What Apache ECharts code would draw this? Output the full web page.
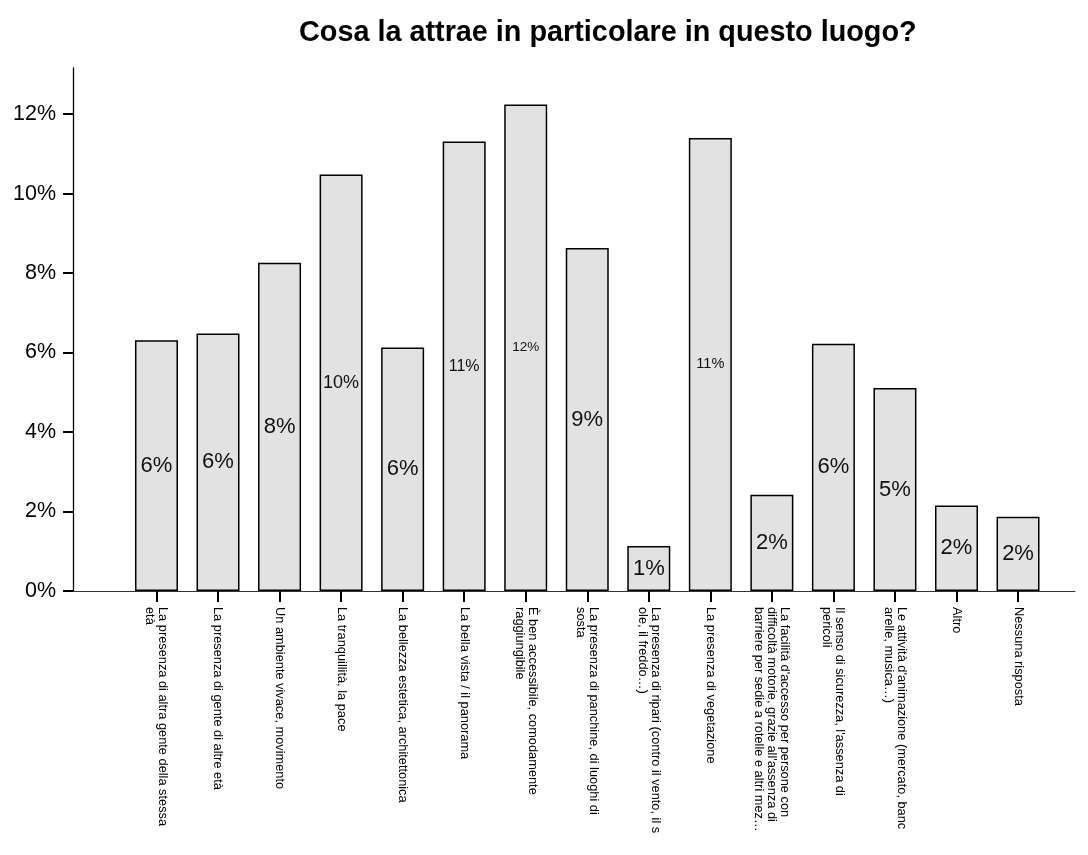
<!DOCTYPE html>
<html>
<head>
<meta charset="utf-8">
<script src="https://cdn.jsdelivr.net/npm/echarts@6/dist/echarts.min.js"></script>
<style>
html,body{margin:0;padding:0;background:#fff;}
#chart{width:1088px;height:855px;}
</style>
</head>
<body>
<div id="chart"></div>
<script>
const titleText = 'Cosa la attrae in particolare in questo luogo?';
const categories = [
  'La presenza di altra gente della stessa\netà',
  'La presenza di gente di altre età',
  'Un ambiente vivace, movimento',
  'La tranquillità, la pace',
  'La bellezza estetica, architettonica',
  'La bella vista / il panorama',
  'È ben accessibile, comodamente\nraggiungibile',
  'La presenza di panchine, di luoghi di\nsosta',
  'La presenza di ripari (contro il vento, il s\nole, il freddo…)',
  'La presenza di vegetazione',
  "La facilità d'accesso per persone con\ndifficoltà motorie, grazie all'assenza di\nbarriere per sedie a rotelle e altri mez…",
  "Il senso di sicurezza, l'assenza di\npericoli",
  "Le attività d'animazione (mercato, banc\narelle, musica…)",
  'Altro',
  'Nessuna risposta'
];
const percentValues = [6.31, 6.48, 8.26, 10.48, 6.13, 11.31, 12.24, 8.63, 1.13, 11.40, 2.42, 6.22, 5.11, 2.15, 1.87];
const yTickValues = [0, 2, 4, 6, 8, 10, 12];
const yMax = 13.16;

// label font sizes (style only)
const labelSizes = [22, 22, 22, 18, 22, 16, 13.5, 22, 22, 14.5, 22, 22, 22, 22, 22];

const FONT = '"Liberation Sans", Arial, sans-serif';

const chart = echarts.init(document.getElementById('chart'), null, {renderer: 'canvas'});

const barData = percentValues.map((v, i) => ({
  value: v,
  label: { fontSize: labelSizes[i] }
}));

chart.setOption({
  backgroundColor: '#fff',
  animation: false,
  title: {
    text: titleText,
    left: 299,
    top: 19,
    textStyle: { fontFamily: FONT, fontWeight: 'bold', fontSize: 28.8, color: '#000' },
    padding: 0
  },
  grid: [
    { left: 125.7, right: 39.2, top: 68, bottom: 264 },
    { left: 73, right: 13, top: 68, bottom: 264 }
  ],
  xAxis: [
    {
      type: 'category',
      gridIndex: 0,
      data: categories,
      axisLine: { show: false },
      axisTick: { show: true, alignWithLabel: true, length: 11, lineStyle: { color: '#000', width: 2 } },
      axisLabel: {
        rotate: -90,
        interval: 0,
        margin: 16,
        fontFamily: FONT,
        fontSize: 12.8,
        lineHeight: 13,
        color: '#000'
      },
      splitLine: { show: false }
    },
    {
      type: 'value',
      gridIndex: 1,
      min: 0,
      max: 1,
      axisLine: { show: true, onZero: false, lineStyle: { color: '#333', width: 1 } },
      axisTick: { show: false },
      axisLabel: { show: false },
      splitLine: { show: false }
    }
  ],
  yAxis: [
    {
      type: 'value',
      gridIndex: 0,
      min: 0,
      max: yMax,
      show: false,
      splitLine: { show: false }
    },
    {
      type: 'value',
      gridIndex: 1,
      min: 0,
      max: yMax,
      interval: 2,
      axisLine: { show: true, lineStyle: { color: '#000', width: 1.3 } },
      axisTick: { show: true, length: 10, customValues: yTickValues, lineStyle: { color: '#000', width: 2 } },
      axisLabel: {
        customValues: yTickValues,
        margin: 17,
        fontFamily: FONT,
        fontSize: 21.5,
        color: '#000',
        formatter: v => (yTickValues.indexOf(v) >= 0 ? v + '%' : '')
      },
      splitLine: { show: false }
    }
  ],
  series: [
    {
      type: 'bar',
      xAxisIndex: 0,
      yAxisIndex: 0,
      data: barData,
      barWidth: 43,
      itemStyle: { color: '#e2e2e2', borderColor: '#000', borderWidth: 1.5 },
      label: {
        show: true,
        position: 'inside',
        fontFamily: FONT,
        color: '#111',
        formatter: p => Math.round(p.value) + '%'
      }
    }
  ]
});
</script>
</body>
</html>
